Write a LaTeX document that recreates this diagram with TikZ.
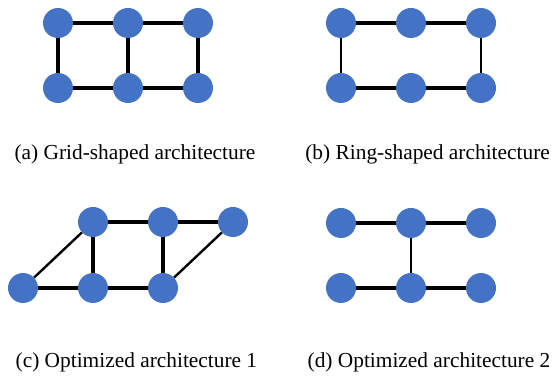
\documentclass[tikz,border=0pt]{standalone}
\usepackage{fontspec}
\setmainfont{Liberation Serif}
\usetikzlibrary{positioning}
\definecolor{nodeblue}{HTML}{4472C4}
\tikzset{vert/.style={circle, minimum size=7.5mm, inner sep=0pt, fill=nodeblue}}
\tikzset{link/.style={line width=2.6pt}}
\tikzset{thinlink/.style={line width=1.7pt}}
\tikzset{caption/.style={font=\fontsize{15.2}{18}\selectfont, inner sep=0pt}}

\begin{document}
\begin{tikzpicture}
\useasboundingbox (0,0) rectangle (13.825,-9.45);
\begin{scope}[on grid]

% (a) grid
\node[vert] (a1) at (1.45,-0.575) {};
\node[vert] (a2) [right = 1.75 of a1] {};
\node[vert] (a3) [right = 1.75 of a2] {};
\node[vert] (a4) [below = 1.625 of a1] {};
\node[vert] (a5) [right = 1.75 of a4] {};
\node[vert] (a6) [right = 1.75 of a5] {};

\draw[link] (a1) -- (a2) -- (a3);
\draw[link] (a4) -- (a5) -- (a6);
\draw[link] (a1) -- (a4);
\draw[link] (a2) -- (a5);
\draw[link] (a3) -- (a6);

\node[caption] (capa) at (3.375,-3.85) {(a) Grid-shaped architecture};

% (b) ring
\node[vert] (b1) at (8.525,-0.575) {};
\node[vert] (b2) [right = 1.75 of b1] {};
\node[vert] (b3) [right = 1.75 of b2] {};
\node[vert] (b4) [below = 1.625 of b1] {};
\node[vert] (b5) [right = 1.75 of b4] {};
\node[vert] (b6) [right = 1.75 of b5] {};

\draw[link] (b1) -- (b2) -- (b3);
\draw[link] (b4) -- (b5) -- (b6);
\draw[thinlink] (b1) -- (b4);
\draw[thinlink] (b3) -- (b6);

\node[caption] (capb) at (10.69,-3.85) {(b) Ring-shaped architecture};

% (c) optimized 1
\node[vert] (c4) at (0.575,-7.2) {};
\node[vert] (c5) [right = 1.75 of c4] {};
\node[vert] (c6) [right = 1.75 of c5] {};
\node[vert] (c1) [above = 1.65 of c5] {};
\node[vert] (c2) [right = 1.75 of c1] {};
\node[vert] (c3) [right = 1.75 of c2] {};

\draw[link] (c1) -- (c2) -- (c3);
\draw[link] (c4) -- (c5) -- (c6);
\draw[link] (c1) -- (c5);
\draw[link] (c2) -- (c6);
\draw[thinlink] (c4) -- (c1);
\draw[thinlink] (c6) -- (c3);

\node[caption] (capc) at (3.41,-9.05) {(c) Optimized architecture 1};

% (d) optimized 2
\node[vert] (d1) at (8.525,-5.575) {};
\node[vert] (d2) [right = 1.75 of d1] {};
\node[vert] (d3) [right = 1.75 of d2] {};
\node[vert] (d4) [below = 1.625 of d1] {};
\node[vert] (d5) [right = 1.75 of d4] {};
\node[vert] (d6) [right = 1.75 of d5] {};

\draw[link] (d1) -- (d2) -- (d3);
\draw[link] (d4) -- (d5) -- (d6);
\draw[thinlink] (d2) -- (d5);

\node[caption] (capd) at (10.725,-9.05) {(d) Optimized architecture 2};
\end{scope}
\end{tikzpicture}
\end{document}
